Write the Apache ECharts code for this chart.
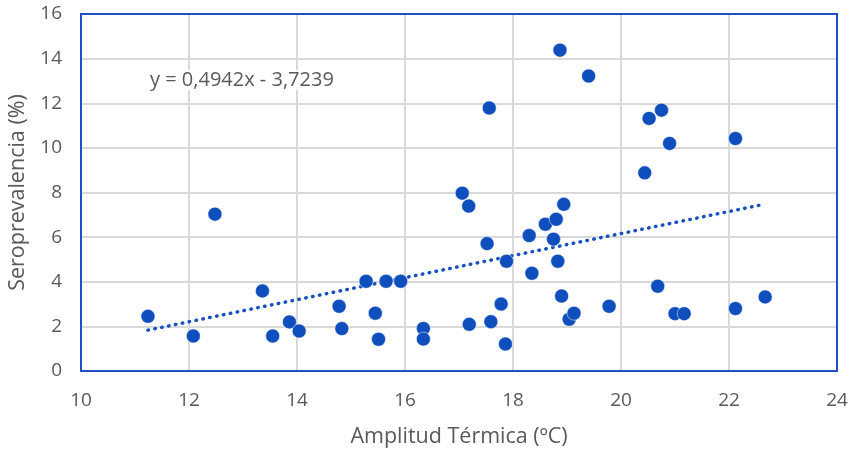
<!DOCTYPE html>
<html><head><meta charset="utf-8">
<script src="https://cdn.jsdelivr.net/npm/echarts@6/dist/echarts.min.js"></script>
<style>html,body{margin:0;padding:0;background:#fff}#c{width:852px;height:449px}</style>
</head><body><div id="c"></div>
<script>
// Amplitud térmica (ºC)
const amplitud = [11.24, 12.08, 12.48, 13.36, 13.55, 13.86, 14.04, 14.78, 14.83, 15.28,
  15.45, 15.51, 15.65, 15.92, 16.34, 16.34, 17.19, 17.18, 17.06, 17.52,
  17.59, 17.78, 17.86, 17.88, 18.30, 18.35, 18.60, 18.80, 18.94, 18.75,
  18.83, 18.90, 19.04, 19.13, 17.56, 18.87, 19.40, 19.78, 20.44, 20.52,
  20.75, 20.90, 20.68, 21.00, 21.17, 22.12, 22.12, 22.67];
// Seroprevalencia (%)
const seroprev = [2.45, 1.57, 7.03, 3.59, 1.57, 2.20, 1.79, 2.90, 1.90, 4.02,
  2.59, 1.42, 4.02, 4.02, 1.91, 1.43, 2.09, 7.39, 7.97, 5.71,
  2.21, 3.00, 1.21, 4.92, 6.07, 4.38, 6.58, 6.80, 7.47, 5.91,
  4.92, 3.36, 2.32, 2.59, 11.79, 14.38, 13.22, 2.90, 8.88, 11.32,
  11.69, 10.20, 3.80, 2.57, 2.57, 10.42, 2.80, 3.32];
const trendSlope = 0.4942;
const trendIntercept = -3.7239;
const equationText = 'y = 0,4942x - 3,7239';
const xTicks = [10, 12, 14, 16, 18, 20, 22, 24];
const yTicks = [0, 2, 4, 6, 8, 10, 12, 14, 16];

const pts = amplitud.map((x, i) => [x, seroprev[i]]);
const xMin = Math.min(...amplitud), xMax = Math.max(...amplitud);
const trend = [[xMin, trendSlope * xMin + trendIntercept], [xMax, trendSlope * xMax + trendIntercept]];

const font = 'Open Sans';
const G = {left: 81, top: 14, right: 15, bottom: 78};
const W = 852, H = 449;
const chart = echarts.init(document.getElementById('c'), null, {renderer: 'canvas'});
chart.setOption({
  animation: false,
  grid: {left: G.left, top: G.top, right: G.right, bottom: G.bottom, show: false,
         containLabel: false, outerBoundsMode: 'none'},
  xAxis: {
    type: 'value', min: xTicks[0], max: xTicks[xTicks.length - 1], interval: 2,
    axisLine: {show: false}, axisTick: {show: false},
    splitLine: {show: true, lineStyle: {color: '#d9d9d9', width: 2}},
    axisLabel: {color: '#595959', fontSize: 19, fontFamily: font, margin: 20},
    name: 'Amplitud Térmica (ºC)', nameLocation: 'middle', nameGap: 55,
    nameTextStyle: {color: '#595959', fontSize: 21.5, fontFamily: font}
  },
  yAxis: {
    type: 'value', min: yTicks[0], max: yTicks[yTicks.length - 1], interval: 2,
    axisLine: {show: false}, axisTick: {show: false},
    splitLine: {show: true, lineStyle: {color: '#d9d9d9', width: 2}},
    axisLabel: {color: '#595959', fontSize: 19, fontFamily: font, margin: 19, padding: [4, 0, 0, 0]},
    name: 'Seroprevalencia (%)', nameLocation: 'middle', nameGap: 52,
    nameTextStyle: {color: '#595959', fontSize: 21.5, fontFamily: font}
  },
  series: [
    {
      type: 'line', data: trend, showSymbol: false, symbol: 'none',
      lineStyle: {color: '#1650c0', width: 3.5, type: [0.5, 6.5], cap: 'round'},
      silent: true, z: 2
    },
    {
      type: 'scatter', data: pts, symbolSize: 14,
      itemStyle: {color: '#0f4ebd', opacity: 1, borderColor: '#ffffff', borderWidth: 0.5},
      z: 3
    }
  ],
  graphic: [
    {
      type: 'text', left: 150, top: 70, z: 10,
      style: {text: equationText, fill: '#595959', font: '20px "' + font + '"', backgroundColor: '#fff'}
    },
    {
      type: 'rect', z: 20, silent: true,
      shape: {x: G.left, y: G.top, width: W - G.left - G.right, height: H - G.top - G.bottom},
      style: {fill: 'none', stroke: '#1f4fc0', lineWidth: 2}
    }
  ]
});
</script></body></html>
